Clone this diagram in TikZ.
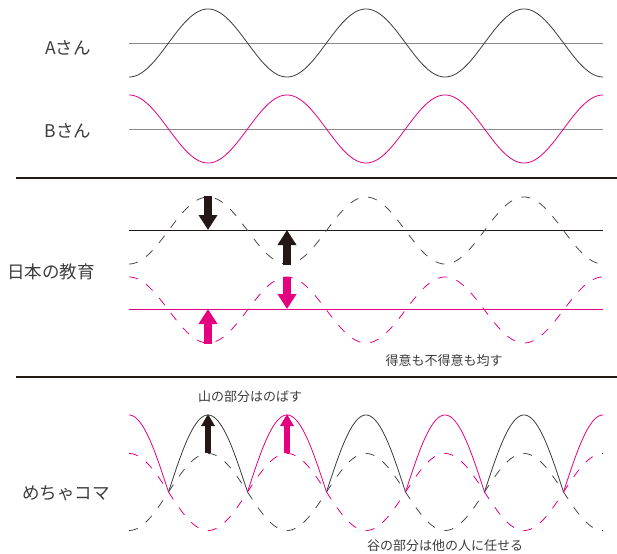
\documentclass[tikz,border=0pt]{standalone}
\usepackage{fontspec}
\setmainfont{Noto Sans CJK JP}
\usetikzlibrary{arrows.meta}
\definecolor{mag}{HTML}{E4007F}
\definecolor{ink}{HTML}{231815}
\definecolor{wavegray}{HTML}{3A3A3A}
\definecolor{dashgray}{HTML}{4A4A4A}
\definecolor{axisgray}{HTML}{8A8A8A}
\definecolor{txt}{HTML}{3C3C3C}
\begin{document}
\begin{tikzpicture}[x=1pt,y=-1pt,
  biglabel/.style={text=txt, font=\fontsize{17.5}{20}\selectfont, inner sep=0pt},
  smalllabel/.style={text=txt, font=\fontsize{13}{15}\selectfont, inner sep=0pt},
  wave/.style={line width=0.8pt},
  dashwave/.style={line width=0.8pt, dash pattern=on 9pt off 10pt},
  axisline/.style={line width=0.9pt, axisgray},
  refline/.style={line width=1pt},
  sepline/.style={line width=1.1pt, ink},
  bigarrow/.style={line width=8.5pt, -{Triangle[length=15pt,width=18pt]}},
  smallarrow/.style={line width=6pt, -{Triangle[length=12pt,width=13pt]}}]
\useasboundingbox (0,0) rectangle (617,553);

% ---------- panel 1 ----------
\node[biglabel] (lblA) at (68,48) {Aさん};
\node[biglabel] (lblB) at (68,131) {Bさん};
\coordinate (aL) at (129,43); \coordinate (aR) at (603,43);
\coordinate (bL) at (129,129); \coordinate (bR) at (603,129);
\draw[axisline] (aL) -- (aR);
\draw[axisline] (bL) -- (bR);
\draw[wave, wavegray] plot[domain=129:603, samples=300] (\x, {43+34*cos((\x-129)/158*360)});
\draw[wave, mag] plot[domain=129:603, samples=300] (\x, {129-34*cos((\x-129)/158*360)});

\coordinate (s1L) at (16,178); \coordinate (s1R) at (617,178);
\draw[sepline] (s1L) -- (s1R);

% ---------- panel 2 ----------
\node[biglabel] (lblJ) at (51,272) {日本の教育};
\node[smalllabel] (lblEven) at (444,361) {得意も不得意も均す};
\coordinate (kL) at (129,230); \coordinate (kR) at (603,230);
\coordinate (pL) at (129,309); \coordinate (pR) at (603,309);
\draw[refline, ink] (kL) -- (kR);
\draw[refline, mag] (pL) -- (pR);
\draw[dashwave, dashgray] plot[domain=129:603, samples=300] (\x, {230.5+33.5*cos((\x-129)/158*360)});
\draw[dashwave, mag] plot[domain=129:603, samples=300] (\x, {310-33*cos((\x-129)/158*360)});
\coordinate (k1s) at (208,196); \coordinate (k1e) at (208,230);
\coordinate (k2s) at (287,265); \coordinate (k2e) at (287,230);
\coordinate (p1s) at (287,277); \coordinate (p1e) at (287,309);
\coordinate (p2s) at (208,344); \coordinate (p2e) at (208,309);
\draw[bigarrow, ink] (k1s) -- (k1e);
\draw[bigarrow, ink] (k2s) -- (k2e);
\draw[bigarrow, mag] (p1s) -- (p1e);
\draw[bigarrow, mag] (p2s) -- (p2e);

\coordinate (s2L) at (16,377); \coordinate (s2R) at (617,377);
\draw[sepline] (s2L) -- (s2R);

% ---------- panel 3 ----------
\node[biglabel] (lblM) at (66,493) {めちゃコマ};
\node[smalllabel] (lblPeak) at (250,397) {山の部分はのばす};
\node[smalllabel] (lblValley) at (445,546) {谷の部分は他の人に任せる};
\draw[dashwave, dashgray] plot[domain=129:603, samples=300] (\x, {492+38.5*cos((\x-129)/158*360)});
\draw[dashwave, mag] plot[domain=129:603, samples=300] (\x, {492-38.5*cos((\x-129)/158*360)});
\foreach \a/\b in {168.5/247.5, 326.5/405.5, 484.5/563.5}
  \draw[wave, wavegray] plot[domain=\a:\b, samples=80] (\x, {492+77*cos((\x-129)/158*360)});
\foreach \a/\b in {129/168.5, 247.5/326.5, 405.5/484.5, 563.5/603}
  \draw[wave, mag] plot[domain=\a:\b, samples=80] (\x, {492-77*cos((\x-129)/158*360)});
\coordinate (m1s) at (208,453); \coordinate (m1e) at (208,414);
\coordinate (m2s) at (287,453); \coordinate (m2e) at (287,414);
\draw[smallarrow, ink] (m1s) -- (m1e);
\draw[smallarrow, mag] (m2s) -- (m2e);
\end{tikzpicture}
\end{document}
